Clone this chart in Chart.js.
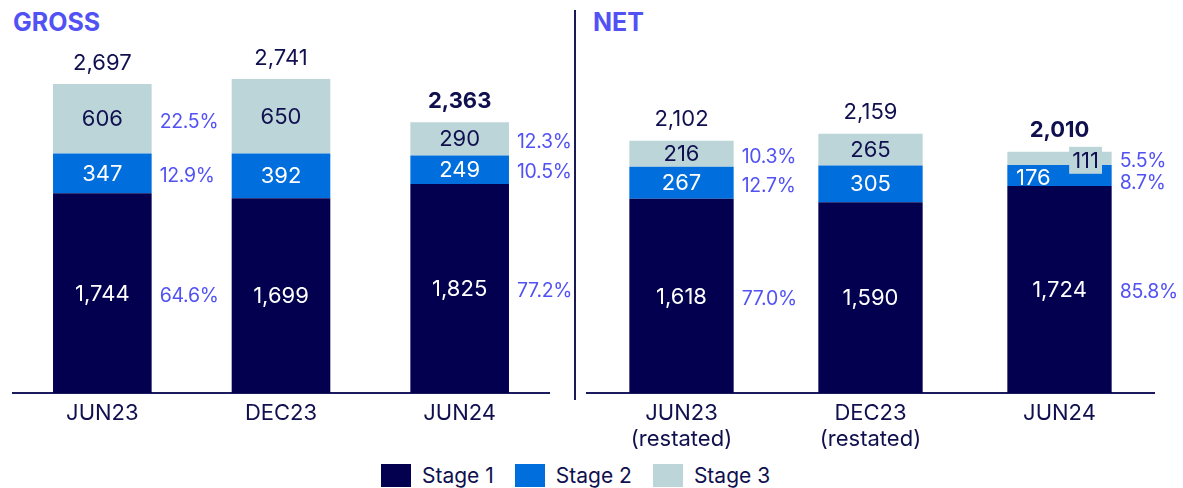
<!DOCTYPE html>
<html>
<head>
<meta charset="utf-8">
<script src="https://cdn.jsdelivr.net/npm/chart.js@4.4.1/dist/chart.umd.min.js"></script>
<style>
  body { margin: 0; background: #fff; font-family: Inter, sans-serif; }
  #wrap { position: relative; width: 1183px; height: 488px; overflow: hidden; }
  canvas { position: absolute; top: 0; }
  .title { position: absolute; top: 7px; font: 700 25px/30px Inter, sans-serif; color: #5252F4; }
  #divider { position: absolute; left: 574px; top: 10px; width: 2px; height: 390px; background: #1a1a55; }
  #legend { position: absolute; left: 381px; top: 464px; height: 23px; display: flex; align-items: center;
            font: 21px Inter, sans-serif; color: #10104f; }
  #legend .sw { width: 30px; height: 23px; margin-right: 11px; }
  #legend .item { display: flex; align-items: center; margin-right: 21px; }
</style>
</head>
<body>
<div id="wrap">
  <div class="title" style="left:13px">GROSS</div>
  <div class="title" style="left:593px">NET</div>
  <div id="divider"></div>
  <canvas id="grossChart" width="587" height="453" style="left:0"></canvas>
  <canvas id="netChart" width="608" height="453" style="left:575px"></canvas>
  <div id="legend"></div>
</div>
<script>
Chart.register(Chart.BarController);

const stageNames = ['Stage 1', 'Stage 2', 'Stage 3'];
const stageColors = ['#02004F', '#006FDD', '#BCD5D9'];

// GROSS
const grossLabels = ['JUN23', 'DEC23', 'JUN24'];
const grossStage1 = [1744, 1699, 1825];
const grossStage2 = [347, 392, 249];
const grossStage3 = [606, 650, 290];
const grossTotals = [2697, 2741, 2363];
const grossPct1 = [64.6, null, 77.2];
const grossPct2 = [12.9, null, 10.5];
const grossPct3 = [22.5, null, 12.3];

// NET
const netLabels = [['JUN23', '(restated)'], ['DEC23', '(restated)'], 'JUN24'];
const netStage1 = [1618, 1590, 1724];
const netStage2 = [267, 305, 176];
const netStage3 = [216, 265, 111];
const netTotals = [2102, 2159, 2010];
const netPct1 = [77.0, null, 85.8];
const netPct2 = [12.7, null, 8.7];
const netPct3 = [10.3, null, 5.5];

const NAVY = '#10104f';
const PCT = '#5252F4';

const stageLabels = {
  id: 'stageLabels',
  afterDatasetsDraw(chart, args, opts) {
    const ctx = chart.ctx;
    const metas = [0, 1, 2].map(i => chart.getDatasetMeta(i));
    ctx.save();
    ctx.textBaseline = 'middle';
    for (let j = 0; j < chart.data.labels.length; j++) {
      const bars = metas.map(m => m.data[j]);
      const xc = bars[0].x, w = bars[0].width;
      const tight = Math.abs(bars[2].base - bars[2].y) < 15;
      const centers = bars.map(b => (b.y + b.base) / 2);

      // values inside segments
      bars.forEach((bar, i) => {
        const v = chart.data.datasets[i].data[j];
        let x = xc, y = centers[i];
        ctx.font = '22px Inter';
        ctx.textAlign = 'center';
        if (tight && i === 2) {
          x = xc + w * 0.25;
          y += 2;
          const tw = ctx.measureText(v.toLocaleString('en-US')).width + 6;
          ctx.fillStyle = stageColors[2];
          ctx.fillRect(x - tw / 2, y - 13.5, tw, 27);
        }
        if (tight && i === 1) {
          x = xc - w * 0.25;
          y += 2;
        }
        ctx.fillStyle = i === 2 ? NAVY : '#ffffff';
        ctx.fillText(v.toLocaleString('en-US'), x, y + 1);
      });

      // total above
      const top = Math.min(...bars.map(b => b.y));
      const last = j === chart.data.labels.length - 1;
      ctx.font = (last ? '700 ' : '') + '22px Inter';
      ctx.textAlign = 'center';
      ctx.fillStyle = NAVY;
      ctx.fillText(opts.totals[j].toLocaleString('en-US'), xc, top - 21);

      // shares on the right
      if (opts.pct[0][j] != null) {
        ctx.font = '19.5px Inter';
        ctx.letterSpacing = '-0.3px';
        ctx.textAlign = 'left';
        ctx.fillStyle = PCT;
        const y3 = centers[2] + 2;
        const y2 = Math.max(centers[1] + 2, y3 + 22);
        const y1 = Math.max(centers[0] + 2, y2 + 22);
        [y1, y2, y3].forEach((y, i) => {
          ctx.fillText(opts.pct[i][j].toFixed(1) + '%', xc + w / 2 + 8, y + 1);
        });
        ctx.letterSpacing = '0px';
      }
    }
    ctx.restore();
  }
};

function makeChart(id, labels, s1, s2, s3, totals, pct, yMax, padL, padR) {
  return new Chart(document.getElementById(id), {
    type: 'bar',
    data: {
      labels: labels,
      datasets: [s1, s2, s3].map((d, i) => ({
        label: stageNames[i],
        data: d,
        backgroundColor: stageColors[i],
        borderWidth: 0,
        categoryPercentage: 1,
        barPercentage: 0.552
      }))
    },
    options: {
      responsive: false,
      animation: false,
      devicePixelRatio: 1,
      layout: { padding: { top: 40, left: padL, right: padR, bottom: 0 } },
      plugins: {
        legend: { display: false },
        tooltip: { enabled: false },
        stageLabels: { totals: totals, pct: pct }
      },
      scales: {
        x: {
          stacked: true,
          grid: { display: false, drawTicks: false },
          border: { display: true, color: '#1b1b5e', width: 2 },
          ticks: { color: NAVY, font: { family: 'Inter', size: 22 }, padding: 7, maxRotation: 0 },
          afterFit(scale) { scale.height = 60; }
        },
        y: { stacked: true, display: false, min: 0, max: yMax }
      }
    },
    plugins: [stageLabels]
  });
}

makeChart('grossChart', grossLabels, grossStage1, grossStage2, grossStage3, grossTotals,
  [grossPct1, grossPct2, grossPct3], 3081, 13, 38);
makeChart('netChart', netLabels, netStage1, netStage2, netStage3, netTotals,
  [netPct1, netPct2, netPct3], 2941, 12, 29);

// legend
const legend = document.getElementById('legend');
stageNames.forEach((name, i) => {
  const item = document.createElement('div');
  item.className = 'item';
  const sw = document.createElement('div');
  sw.className = 'sw';
  sw.style.background = stageColors[i];
  const t = document.createElement('span');
  t.textContent = name;
  item.appendChild(sw);
  item.appendChild(t);
  legend.appendChild(item);
});
</script>
</body>
</html>
